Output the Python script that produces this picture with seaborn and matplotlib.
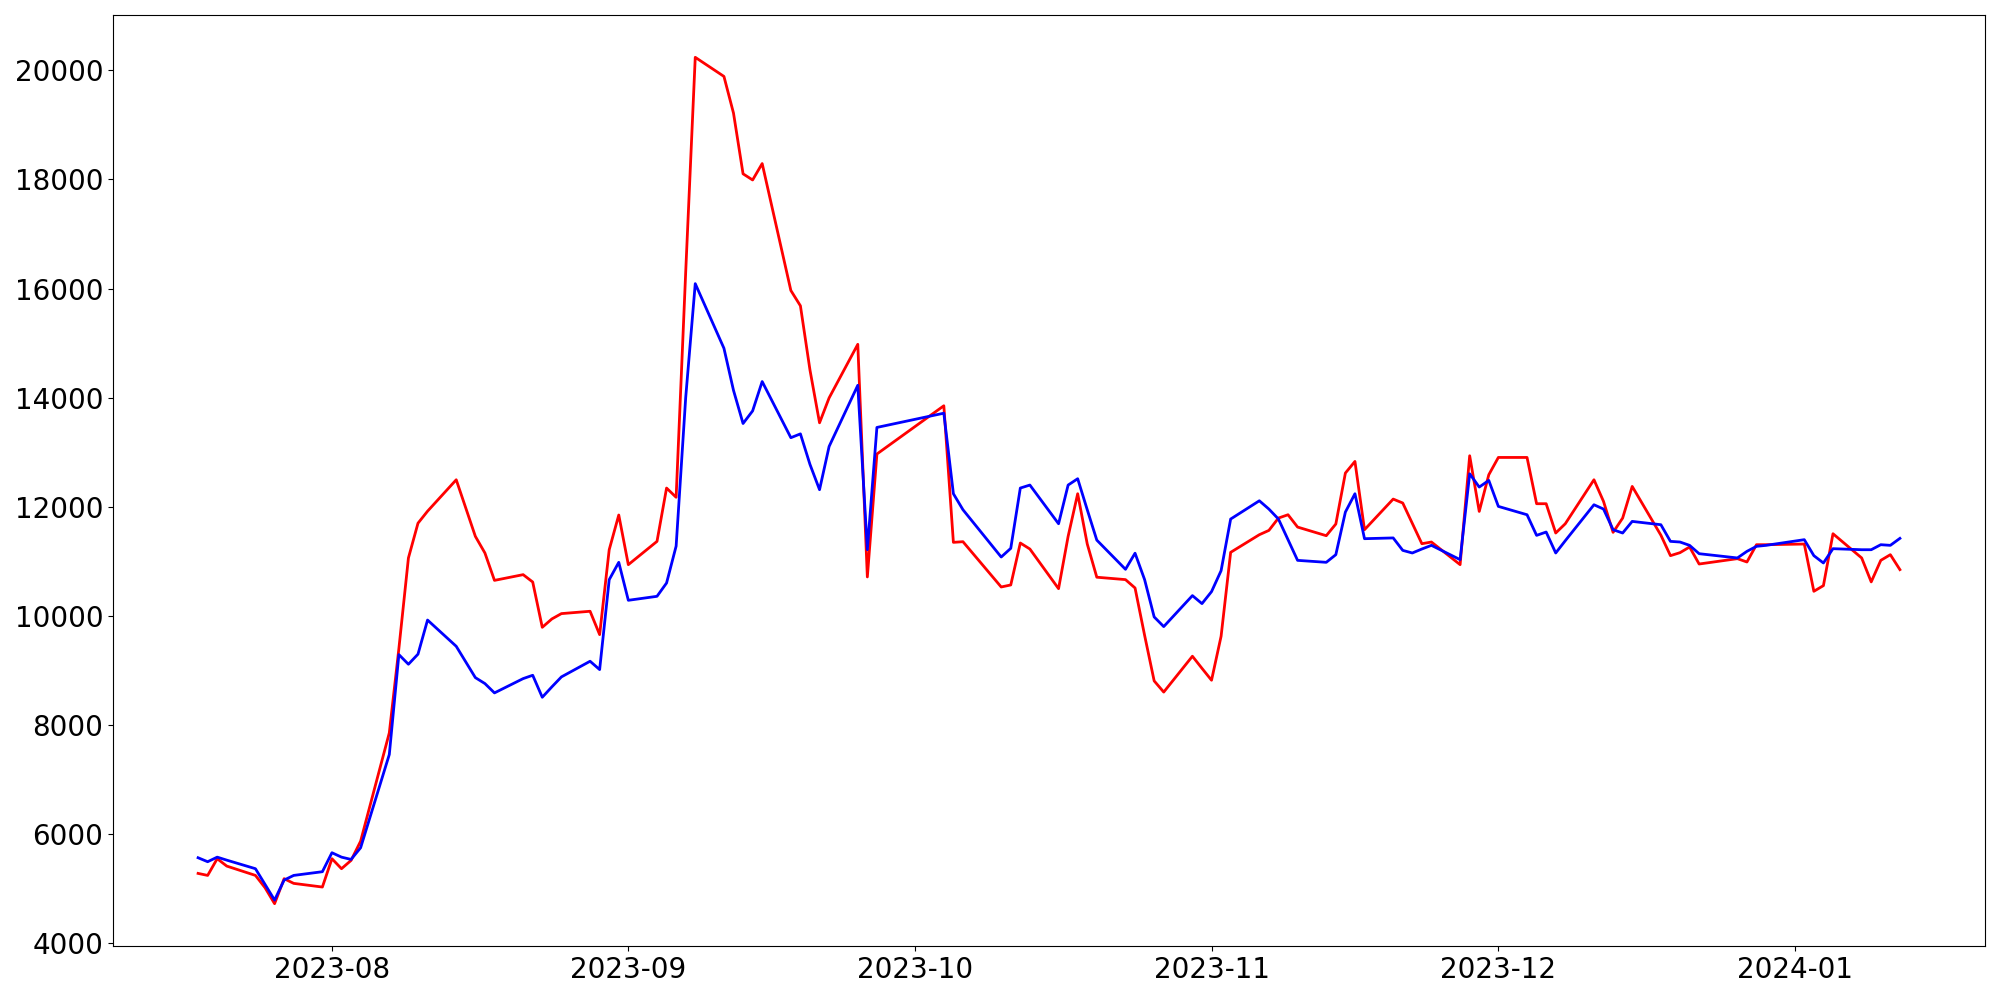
import pandas as pd
import matplotlib
matplotlib.use("Agg")
import matplotlib.pyplot as plt
import matplotlib.dates as mdates
import seaborn as sns

dates = [
    "2023-07-18", "2023-07-19", "2023-07-20", "2023-07-21", "2023-07-24", "2023-07-25",
    "2023-07-26", "2023-07-27", "2023-07-28", "2023-07-31", "2023-08-01", "2023-08-02",
    "2023-08-03", "2023-08-04", "2023-08-07", "2023-08-08", "2023-08-09", "2023-08-10",
    "2023-08-11", "2023-08-14", "2023-08-16", "2023-08-17", "2023-08-18", "2023-08-21",
    "2023-08-22", "2023-08-23", "2023-08-24", "2023-08-25", "2023-08-28", "2023-08-29",
    "2023-08-30", "2023-08-31", "2023-09-01", "2023-09-04", "2023-09-05", "2023-09-06",
    "2023-09-07", "2023-09-08", "2023-09-11", "2023-09-12", "2023-09-13", "2023-09-14",
    "2023-09-15", "2023-09-18", "2023-09-19", "2023-09-20", "2023-09-21", "2023-09-22",
    "2023-09-25", "2023-09-26", "2023-09-27", "2023-10-04", "2023-10-05", "2023-10-06",
    "2023-10-10", "2023-10-11", "2023-10-12", "2023-10-13", "2023-10-16", "2023-10-17",
    "2023-10-18", "2023-10-19", "2023-10-20", "2023-10-23", "2023-10-24", "2023-10-25",
    "2023-10-26", "2023-10-27", "2023-10-30", "2023-10-31", "2023-11-01", "2023-11-02",
    "2023-11-03", "2023-11-06", "2023-11-07", "2023-11-08", "2023-11-09", "2023-11-10",
    "2023-11-13", "2023-11-14", "2023-11-15", "2023-11-16", "2023-11-17", "2023-11-20",
    "2023-11-21", "2023-11-22", "2023-11-23", "2023-11-24", "2023-11-27", "2023-11-28",
    "2023-11-29", "2023-11-30", "2023-12-01", "2023-12-04", "2023-12-05", "2023-12-06",
    "2023-12-07", "2023-12-08", "2023-12-11", "2023-12-12", "2023-12-13", "2023-12-14",
    "2023-12-15", "2023-12-18", "2023-12-19", "2023-12-20", "2023-12-21", "2023-12-22",
    "2023-12-26", "2023-12-27", "2023-12-28", "2023-12-29", "2024-01-02", "2024-01-03",
    "2024-01-04", "2024-01-05", "2024-01-08", "2024-01-09", "2024-01-10", "2024-01-11",
    "2024-01-12",
]

red_values = [
    5282, 5245, 5551, 5416, 5245, 5020,
    4727, 5185, 5099, 5032, 5551, 5368,
    5520, 5873, 7858, 9400, 11063, 11700,
    11920, 12496, 11459, 11154, 10652, 10757,
    10622, 9792, 9945, 10043, 10086, 9658,
    11214, 11850, 10940, 11367, 12344, 12175,
    16300, 20238, 19888, 19216, 18103, 17990,
    18291, 15965, 15684, 14507, 13540, 13996,
    14978, 10715, 12968, 13852, 11349, 11361,
    10531, 10568, 11337, 11227, 10500, 11459,
    12240, 11320, 10710, 10666, 10513, 9645,
    8810, 8605, 9262, 9040, 8822, 9628,
    11166, 11489, 11568, 11794, 11855, 11629,
    11471, 11685, 12619, 12832, 11581, 12142,
    12070, 11697, 11324, 11355, 10940, 12936,
    11916, 12588, 12905, 12905, 12057, 12057,
    11520, 11690, 12496, 12099, 11532, 11794,
    12374, 11480, 11105, 11160, 11264, 10952,
    11050, 10989, 11306, 11306, 11318, 10452,
    10556, 11507, 11063, 10624, 11019, 11123,
    10849,
]

blue_values = [
    5569, 5496, 5580, 5525, 5368, 5081,
    4793, 5160, 5245, 5313, 5661, 5580,
    5538, 5752, 7461, 9292, 9115, 9300,
    9925, 9444, 8870, 8761, 8590, 8852,
    8913, 8510, 8700, 8883, 9170, 9017,
    10665, 10983, 10287, 10360, 10604, 11280,
    14000, 16090, 14906, 14135, 13527, 13758,
    14296, 13267, 13337, 12777, 12314, 13106,
    14227, 11214, 13455, 13716, 12240, 11947,
    11080, 11239, 12344, 12399, 11690, 12399,
    12515, 11947, 11390, 10855, 11150, 10666,
    9982, 9805, 10373, 10226, 10446, 10830,
    11776, 12111, 11959, 11776, 11398, 11019,
    10983, 11123, 11904, 12240, 11416, 11430,
    11202, 11154, 11227, 11294, 11032, 12606,
    12362, 12484, 12008, 11855, 11477, 11538,
    11154, 11379, 12038, 11959, 11581, 11520,
    11733, 11672, 11367, 11355, 11294, 11141,
    11063, 11184, 11276, 11294, 11398, 11105,
    10971, 11233, 11214, 11214, 11306, 11294,
    11422,
]

df = pd.DataFrame({
    "date": pd.to_datetime(dates),
    "red": red_values,
    "blue": blue_values,
})

fig, ax = plt.subplots(figsize=(20, 10), dpi=100)

sns.lineplot(x="date", y="red", data=df, color="red", linewidth=2, ax=ax)
sns.lineplot(x="date", y="blue", data=df, color="blue", linewidth=2, ax=ax)

ax.xaxis.set_major_locator(mdates.MonthLocator())
ax.xaxis.set_major_formatter(mdates.DateFormatter("%Y-%m"))
ax.set_xlabel("")
ax.set_ylabel("")
ax.tick_params(labelsize=20)

plt.subplots_adjust(left=0.0565, right=0.9925, top=0.985, bottom=0.054)
plt.savefig("out.png")
